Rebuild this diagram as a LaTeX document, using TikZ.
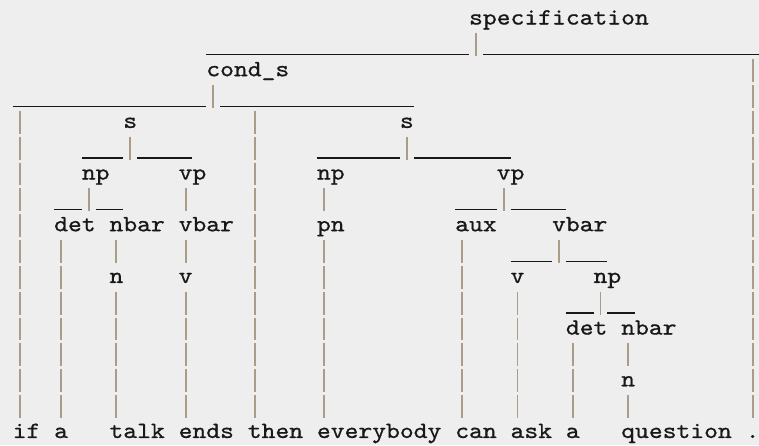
\documentclass[tikz,border=0pt]{standalone}
\usepackage{fontspec}
\setmonofont{lmmono10-regular.otf}[FakeStretch=1.135,FakeBold=0.8]
\usetikzlibrary{calc}
\definecolor{bgc}{RGB}{238,238,238}
\definecolor{txt}{RGB}{24,24,24}
\definecolor{barc}{RGB}{170,156,136}
\newcommand\colx[1]{12.7+13.83*#1}
\newcommand\liney[1]{-(24.5+25.84*(#1-1))}
\tikzset{
  lab/.style={anchor=base west, inner sep=0pt, outer sep=0pt, text=txt,
    font=\ttfamily\fontsize{23.2}{26}\selectfont},
  uline/.style={draw=txt, line width=1.4pt},
  stem/.style={draw=barc, line width=1.9pt, dash pattern=on 22.8pt off 3.04pt}
}
% fork: parent, leftmost child, rightmost child
\newcommand\fork[3]{%
  \draw[uline] ($(#2.base west |- #1.base west)+(0,-30.14)$) -- ($(#1.base west)+(0,-30.14)$);
  \draw[uline] ($(#1.base west)+(13.83,-30.14)$) -- ($(#3.base west |- #1.base west)+(13.83,-30.14)$);
  \draw[stem] ($(#1.base west)+(6.9,-8.84)$) -- ++(0,-22.8);}
% drop: from a forked parent to a child further down
\newcommand\drop[2]{%
  \draw[stem] ($(#2.base west |- #1.base west)+(6.9,-34.68)$) -- ($(#2.base west)+(6.9,20.04)$);}
% chain: single child
\newcommand\chain[2]{%
  \draw[stem] ($(#1.base west)+(6.9,-8.84)$) -- ($(#2.base west)+(6.9,20.04)$);}
\begin{document}
\begin{tikzpicture}[x=1pt,y=1pt]
\fill[bgc] (0,0) rectangle (759,-445);
\useasboundingbox (0,0) rectangle (759,-445);
% labels
\node[lab] (spec)  at ({\colx{33}},{\liney{1}}) {specification};
\node[lab] (cond)  at ({\colx{14}},{\liney{3}}) {cond\_s};
\node[lab] (s1)    at ({\colx{8}},{\liney{5}}) {s};
\node[lab] (s2)    at ({\colx{28}},{\liney{5}}) {s};
\node[lab] (np1)   at ({\colx{5}},{\liney{7}}) {np};
\node[lab] (vp1)   at ({\colx{12}},{\liney{7}}) {vp};
\node[lab] (np2)   at ({\colx{22}},{\liney{7}}) {np};
\node[lab] (vp2)   at ({\colx{35}},{\liney{7}}) {vp};
\node[lab] (det1)  at ({\colx{3}},{\liney{9}}) {det};
\node[lab] (nbar1) at ({\colx{7}},{\liney{9}}) {nbar};
\node[lab] (vbar1) at ({\colx{12}},{\liney{9}}) {vbar};
\node[lab] (pn)    at ({\colx{22}},{\liney{9}}) {pn};
\node[lab] (aux)   at ({\colx{32}},{\liney{9}}) {aux};
\node[lab] (vbar2) at ({\colx{39}},{\liney{9}}) {vbar};
\node[lab] (n1)    at ({\colx{7}},{\liney{11}}) {n};
\node[lab] (v1)    at ({\colx{12}},{\liney{11}}) {v};
\node[lab] (v2)    at ({\colx{36}},{\liney{11}}) {v};
\node[lab] (np3)   at ({\colx{42}},{\liney{11}}) {np};
\node[lab] (det2)  at ({\colx{40}},{\liney{13}}) {det};
\node[lab] (nbar2) at ({\colx{44}},{\liney{13}}) {nbar};
\node[lab] (n2)    at ({\colx{44}},{\liney{15}}) {n};
% words
\node[lab] (wif)   at ({\colx{0}},{\liney{17}}) {if};
\node[lab] (wa1)   at ({\colx{3}},{\liney{17}}) {a};
\node[lab] (wtalk) at ({\colx{7}},{\liney{17}}) {talk};
\node[lab] (wends) at ({\colx{12}},{\liney{17}}) {ends};
\node[lab] (wthen) at ({\colx{17}},{\liney{17}}) {then};
\node[lab] (wevery) at ({\colx{22}},{\liney{17}}) {everybody};
\node[lab] (wcan)  at ({\colx{32}},{\liney{17}}) {can};
\node[lab] (wask)  at ({\colx{36}},{\liney{17}}) {ask};
\node[lab] (wa2)   at ({\colx{40}},{\liney{17}}) {a};
\node[lab] (wq)    at ({\colx{44}},{\liney{17}}) {question};
\node[lab] (wdot)  at ({\colx{53}},{\liney{17}}) {.};
% connectors
\fork{spec}{cond}{wdot}
\drop{spec}{wdot}
\fork{cond}{wif}{s2}
\drop{cond}{wif}
\drop{cond}{wthen}
\fork{s1}{np1}{vp1}
\fork{np1}{det1}{nbar1}
\chain{det1}{wa1}
\chain{nbar1}{n1}
\chain{n1}{wtalk}
\chain{vp1}{vbar1}
\chain{vbar1}{v1}
\chain{v1}{wends}
\fork{s2}{np2}{vp2}
\chain{np2}{pn}
\chain{pn}{wevery}
\fork{vp2}{aux}{vbar2}
\chain{aux}{wcan}
\fork{vbar2}{v2}{np3}
\chain{v2}{wask}
\fork{np3}{det2}{nbar2}
\chain{det2}{wa2}
\chain{nbar2}{n2}
\chain{n2}{wq}
\end{tikzpicture}
\end{document}
